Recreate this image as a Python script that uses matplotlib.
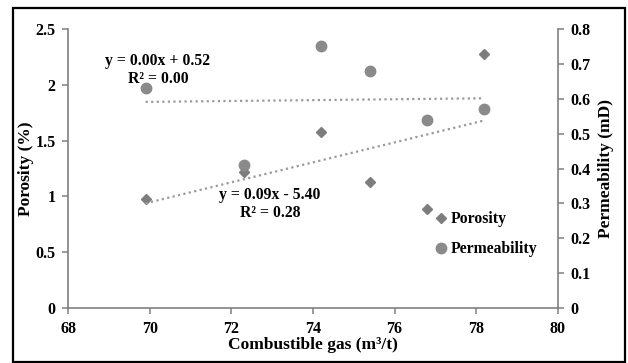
import numpy as np
import matplotlib
matplotlib.use("Agg")
from matplotlib import pyplot as plt
from matplotlib.patches import Rectangle

plt.rcParams["font.family"] = ["Liberation Serif", "DejaVu Serif"]
plt.rcParams["font.weight"] = "bold"

# data
gas = [69.9, 72.3, 74.2, 75.4, 76.8, 78.2]
porosity = [0.98, 1.22, 1.58, 1.13, 0.89, 2.28]
permeability = [0.63, 0.41, 0.75, 0.68, 0.54, 0.57]
x_ticks = [68, 70, 72, 74, 76, 78, 80]
left_ticks = [0, 0.5, 1, 1.5, 2, 2.5]
right_ticks = [0, 0.1, 0.2, 0.3, 0.4, 0.5, 0.6, 0.7, 0.8]

dia_col = "#7d7d7d"
circ_col = "#8a8a8a"
line_col = "#9a9a9a"
spine_col = "#808080"

fig = plt.figure(figsize=(6.28, 3.63), dpi=100)
fig.patches.append(Rectangle((0.02, 0.003), 0.975, 0.975, transform=fig.transFigure,
                             fill=False, edgecolor="black", linewidth=1.6))

ax = fig.add_axes([0.1083, 0.1515, 0.78, 0.7686])
ax2 = ax.twinx()

p1, = ax.plot(gas, porosity, "D", color=dia_col, markersize=5.5, label="Porosity")
p2, = ax2.plot(gas, permeability, "o", color=circ_col, markersize=7.5, label="Permeability")

# linear trends
xs = np.array([min(gas), max(gas)])
k1, b1 = np.polyfit(gas, porosity, 1)
k2, b2 = np.polyfit(gas, permeability, 1)
ax.plot(xs, k1 * xs + b1, linestyle=(0, (1, 1.5)), color=line_col, linewidth=1.6)
ax2.plot(xs, k2 * xs + b2, linestyle=(0, (1, 1.5)), color=line_col, linewidth=1.6)

ax.set_xlim(68, 80)
ax.set_ylim(0, 2.5)
ax2.set_ylim(0, 0.8)
ax.set_xticks(x_ticks)
ax.set_yticks(left_ticks)
ax.set_yticklabels(["0", "0.5", "1", "1.5", "2", "2.5"])
ax2.set_yticks(right_ticks)
ax2.set_yticklabels(["0", "0.1", "0.2", "0.3", "0.4", "0.5", "0.6", "0.7", "0.8"])

for a in (ax, ax2):
    a.spines["top"].set_visible(False)
    for s in ("left", "right", "bottom"):
        a.spines[s].set_color(spine_col)
        a.spines[s].set_linewidth(1.2)
    a.tick_params(direction="out", length=4, width=1.1, color=spine_col, labelsize=11.5)
ax.spines["right"].set_visible(False)
ax2.spines["left"].set_visible(False)
ax2.spines["bottom"].set_visible(False)
ax.tick_params(axis="x", pad=5)
ax.tick_params(axis="y", pad=5)
ax2.tick_params(axis="y", pad=5)

ax.set_xlabel("Combustible gas (m³/t)", fontsize=12.5, fontweight="bold", labelpad=0)
ax.set_ylabel("Porosity (%)", fontsize=12.5, fontweight="bold", labelpad=1)
ax2.set_ylabel("Permeability (mD)", fontsize=12.5, fontweight="bold", labelpad=5)

ax.text(70.2, 2.21, "y = 0.00x + 0.52", ha="center", va="center", fontsize=11.3, fontweight="bold")
ax.text(70.2, 2.05, "R² = 0.00", ha="center", va="center", fontsize=11.3, fontweight="bold")
ax.text(72.95, 1.01, "y = 0.09x - 5.40", ha="center", va="center", fontsize=11.3, fontweight="bold")
ax.text(72.95, 0.85, "R² = 0.28", ha="center", va="center", fontsize=11.3, fontweight="bold")

ax.legend([p1, p2], ["Porosity", "Permeability"], loc="upper left",
          bbox_to_anchor=(0.739, 0.37), frameon=False, fontsize=11.3,
          handlelength=0.6, handletextpad=0.3, labelspacing=0.9, borderaxespad=0)

plt.savefig("out.png", dpi=100)
